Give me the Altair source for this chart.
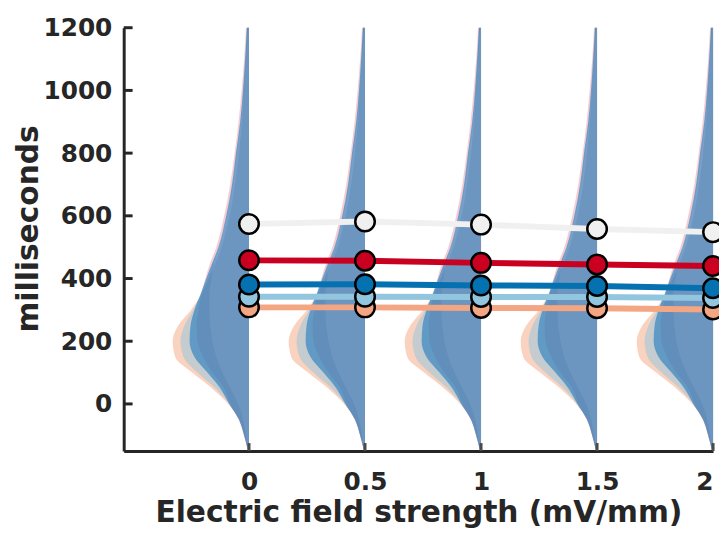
import altair as alt
import pandas as pd

# ---- data ----
positions = [0, 0.5, 1, 1.5, 2]
series = ["white", "red", "blue", "lightblue", "salmon"]
series_colors = ["#f0f0f0", "#ca0020", "#0571b0", "#92c5de", "#f4a582"]

mean_white = [574, 582, 572, 558, 548]
mean_red = [458, 457, 450, 445, 440]
mean_blue = [381, 382, 378, 376, 369]
mean_lightblue = [342, 342, 341, 341, 338]
mean_salmon = [308, 308, 306, 305, 301]

# density profile (half-violin width in x-axis units) at these ms levels
levels = [-150, -100, -50, 0, 50, 100, 150, 200, 250, 300, 350, 400, 450, 500,
          600, 700, 800, 900, 1000, 1100, 1200]
dens_salmon = [0.004, 0.021, 0.043, 0.090, 0.160, 0.245, 0.318, 0.329, 0.305, 0.250, 0.205,
               0.171, 0.141, 0.115, 0.081, 0.060, 0.043, 0.030, 0.021, 0.013, 0.009]
dens_lightblue = [0.004, 0.021, 0.043, 0.085, 0.145, 0.222, 0.282, 0.295, 0.278, 0.240, 0.205,
                  0.175, 0.145, 0.120, 0.085, 0.060, 0.043, 0.030, 0.021, 0.013, 0.009]
dens_blue = [0.004, 0.021, 0.043, 0.085, 0.124, 0.179, 0.235, 0.256, 0.252, 0.235, 0.209,
             0.184, 0.158, 0.132, 0.098, 0.073, 0.056, 0.038, 0.026, 0.017, 0.009]
dens_red = [0.005, 0.022, 0.045, 0.080, 0.107, 0.158, 0.197, 0.222, 0.226, 0.218, 0.205,
            0.188, 0.167, 0.141, 0.107, 0.081, 0.062, 0.045, 0.032, 0.021, 0.013]
dens_white = [0.004, 0.013, 0.026, 0.047, 0.081, 0.115, 0.141, 0.158, 0.167, 0.171, 0.171,
              0.162, 0.150, 0.132, 0.094, 0.068, 0.051, 0.034, 0.021, 0.013, 0.004]

y_ticks = [0, 200, 400, 600, 800, 1000, 1200]
x_ticks = [0, 0.5, 1, 1.5, 2]

means = {"white": mean_white, "red": mean_red, "blue": mean_blue,
         "lightblue": mean_lightblue, "salmon": mean_salmon}
dens = {"white": dens_white, "red": dens_red, "blue": dens_blue,
        "lightblue": dens_lightblue, "salmon": dens_salmon}

# ---- tables ----
def violin_df(name):
    rows = []
    for p in positions:
        for lv, w in zip(levels, dens[name]):
            rows.append({"pos": p, "ms": lv, "left": p - w, "grp": str(p)})
    return pd.DataFrame(rows)

point_rank = {"salmon": 0, "lightblue": 1, "blue": 2, "red": 3, "white": 4}
mean_rows = []
for s in series:
    for p, m in zip(positions, means[s]):
        mean_rows.append({"series": s, "field": p, "ms": m, "rank": point_rank[s]})
mean_df = pd.DataFrame(mean_rows)

FONT = "DejaVu Sans"
INK = "#262626"

xscale = alt.Scale(domain=[-0.54, 2.0], nice=False, zero=False)
yscale = alt.Scale(domain=[-150, 1200], nice=False, zero=False)

xaxis = alt.Axis(values=x_ticks, format="~g", title="Electric field strength (mV/mm)", tickSize=0,
                 labelPadding=19, titleY=71, titleBaseline="alphabetic", labelFlush=True)
yaxis = alt.Axis(values=y_ticks, format="d", title="milliseconds", tickSize=0,
                 labelPadding=12, titleX=-87, titleY=203, titleBaseline="alphabetic")

X = lambda f: alt.X(f, scale=xscale, axis=xaxis)
Y = lambda f: alt.Y(f, scale=yscale, axis=yaxis)

def violin_layer(name, fill, opacity):
    return alt.Chart(violin_df(name)).mark_area(
        orient="horizontal", interpolate="monotone", fill=fill, opacity=opacity,
        strokeWidth=0
    ).encode(y=Y("ms:Q"), x=X("left:Q"), x2="pos:Q", detail="grp:N")

violins = [
    violin_layer("salmon", "#f4a582", 0.5),
    violin_layer("lightblue", "#92c5de", 0.5),
    violin_layer("red", "#ca0020", 0.2),
    violin_layer("blue", "#3a86c0", 0.72),
    violin_layer("white", "#f7f7f7", 0.08),
]

color = alt.Color("series:N", scale=alt.Scale(domain=series, range=series_colors), legend=None)

lines = alt.Chart(mean_df).mark_line(strokeWidth=6).encode(
    x=X("field:Q"), y=Y("ms:Q"), color=color, detail="series:N")

points = alt.Chart(mean_df).mark_circle(size=390, opacity=1, stroke="black", strokeWidth=2.5).encode(
    x=X("field:Q"), y=Y("ms:Q"), color=color, order="rank:Q")

ytick_df = pd.DataFrame({"ms": y_ticks})
xtick_df = pd.DataFrame({"field": x_ticks})
yticks = alt.Chart(ytick_df).mark_rule(color=INK, strokeWidth=3).encode(
    y=Y("ms:Q"), x=alt.value(0), x2=alt.value(9))
xticks = alt.Chart(xtick_df).mark_rule(color="#4a4a4a", strokeWidth=3).encode(
    x=X("field:Q"), y=alt.value(428), y2=alt.value(420))

chart = alt.layer(*violins, xticks, yticks, lines, points).properties(
    width=596, height=428,
    padding={"left": 117, "top": 17, "right": 6, "bottom": 78},
    autosize=alt.AutoSizeParams(type="none"),
).configure_view(stroke=None).configure_axis(
    grid=False, domainColor=INK, domainWidth=3, ticks=False,
    labelFont=FONT, labelFontWeight="bold", labelFontSize=25, labelColor=INK,
    titleFont=FONT, titleFontWeight="bold", titleFontSize=30, titleColor=INK,
)

chart.save("out.html", embed_options={"renderer": "svg", "actions": False})
